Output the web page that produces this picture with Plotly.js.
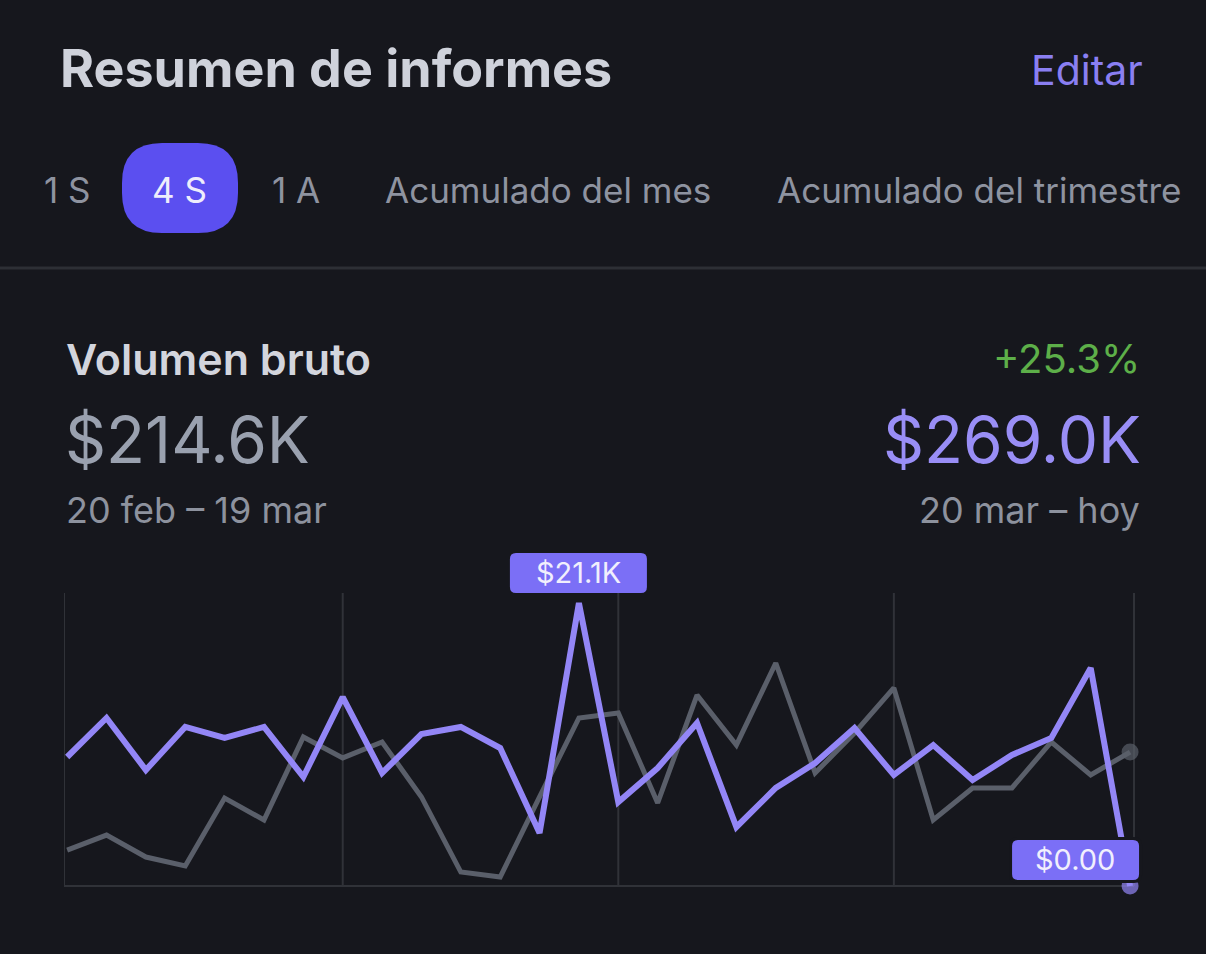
<!DOCTYPE html>
<html><head><meta charset="utf-8">
<script src="https://cdn.plot.ly/plotly-3.0.1.min.js"></script>
<style>html,body{margin:0;padding:0;background:#16171d;}#chart{width:1206px;height:954px;}</style>
</head><body><div id="chart"></div>
<script>
// ---- data (values in $K) ----
const days = [0,1,2,3,4,5,6,7,8,9,10,11,12,13,14,15,16,17,18,19,20,21,22,23,24,25,26,27];
const previousPeriod = [2.68,3.80,2.16,1.49,6.56,4.92,11.11,9.55,10.74,6.64,1.04,0.67,6.64,12.53,12.90,6.19,14.24,10.51,16.63,8.43,11.41,14.77,4.92,7.31,7.31,10.74,8.28,9.99];
const currentPeriod = [9.62,12.53,8.65,11.86,11.04,11.86,8.13,14.09,8.43,11.33,11.86,10.29,3.95,21.10,6.26,8.80,12.16,4.40,7.31,9.17,11.78,8.28,10.51,7.90,9.77,11.04,16.26,0.00];
const weekTicks = [7,14,21];
const tabLabels = ["1 S","4 S","1 A","Acumulado del mes","Acumulado del trimestre"];
const headerTitle = "Resumen de informes";
const editLabel = "Editar";
const metricName = "Volumen bruto";
const previousTotal = "$214.6K";
const currentTotal = "$269.0K";
const changePct = "+25.3%";
const previousRange = "20 feb – 19 mar";
const currentRange = "20 mar – hoy";
const peakLabel = "$21.1K";
const lastLabel = "$0.00";

// ---- helpers ----
const W = 1206, H = 954;
const FONT = "Inter, Roboto, 'Noto Sans', sans-serif";
const px = x => x / W;
const py = y => 1 - y / H;
function rr(x0, y0, x1, y1, r) {
  return `M${x0+r},${y0} L${x1-r},${y0} Q${x1},${y0} ${x1},${y0+r} L${x1},${y1-r} Q${x1},${y1} ${x1-r},${y1} L${x0+r},${y1} Q${x0},${y1} ${x0},${y1-r} L${x0},${y0+r} Q${x0},${y0} ${x0+r},${y0} Z`;
}
function txt(text, x, y, size, color, anchor, weight) {
  return {text, xref:'paper', yref:'paper', x:px(x), y:py(y), xanchor:anchor||'left', yanchor:'middle',
          showarrow:false, font:{family:FONT, size, color, weight:weight||400}};
}

const peakIdx = currentPeriod.indexOf(Math.max(...currentPeriod));
const lastIdx = days.length - 1;

// frame of the chart (axis units)
const xLo = -0.08, xHi = 27.1, yTop = 21.85;
const GRID = '#303238';

const traces = [
  {x:days, y:previousPeriod, type:'scatter', mode:'lines+markers', cliponaxis:false,
   line:{color:'#5a5f6a', width:5},
   marker:{color:'#5a5f6a', line:{width:0}, size:days.map((d,i)=> i===lastIdx ? 17 : 0)}, hoverinfo:'skip'},
  {x:days, y:currentPeriod, type:'scatter', mode:'lines+markers', cliponaxis:false,
   line:{color:'#9386f6', width:6},
   marker:{color:'#9386f6', line:{width:0}, size:days.map((d,i)=> i===lastIdx ? 17 : 0)}, hoverinfo:'skip'}
];

const tabX = [42, 180, 270, 383, 775];
const annotations = [
  txt(headerTitle, 58, 69, 52, '#cfd2db', 'left', 700),
  txt(editLabel, 1145, 70, 41, '#8a7ff2', 'right', 400),
  txt(metricName, 64, 359, 43, '#d3d5dd', 'left', 600),
  txt(changePct, 1142, 359, 40, '#5daf49', 'right', 400),
  txt(previousTotal, 63, 439, 64, '#9aa1af', 'left', 400),
  txt(currentTotal, 1143, 439, 64, '#998ef6', 'right', 400),
  txt(previousRange, 64, 510, 36, '#8d929e', 'left', 400),
  txt(currentRange, 1142, 510, 36, '#8d929e', 'right', 400),
  {text:peakLabel, xref:'x', yref:'y', x:days[peakIdx], y:currentPeriod[peakIdx], xanchor:'center', yanchor:'middle',
   yshift:31, showarrow:false, font:{family:FONT, size:29, color:'#f1effd'}},
  {text:lastLabel, xref:'x', yref:'y', x:days[lastIdx], y:currentPeriod[lastIdx], xanchor:'center', yanchor:'middle',
   xshift:-55, yshift:27, showarrow:false, font:{family:FONT, size:29, color:'#f1effd'}}
];
tabLabels.forEach((t,i)=>{
  annotations.push(txt(t, tabX[i], 190, 35, i===1 ? '#eeedfc' : '#8e93a0', i===1?'center':'left', 400));
});

const shapes = [
  // selected tab pill
  {type:'path', xref:'paper', yref:'paper', xsizemode:'pixel', ysizemode:'pixel', xanchor:0, yanchor:1,
   path:rr(122, -233, 238, -143, 40), fillcolor:'#5b4ff0', line:{width:0}, layer:'below'},
  // separator
  {type:'line', xref:'paper', yref:'paper', x0:0, x1:1, y0:py(268), y1:py(268), line:{color:'#2d2f35', width:3}, layer:'below'},
  // chart frame: left, right, bottom
  {type:'line', xref:'x', yref:'y', x0:xLo, x1:xLo, y0:0, y1:yTop, line:{color:GRID, width:2}, layer:'below'},
  {type:'line', xref:'x', yref:'y', x0:xHi, x1:xHi, y0:0, y1:yTop, line:{color:GRID, width:2}, layer:'below'},
  {type:'line', xref:'x', yref:'y', x0:xLo, x1:xHi, y0:0, y1:0, line:{color:GRID, width:2}, layer:'below'},
];
// weekly vertical gridlines
weekTicks.forEach(t => shapes.push({type:'line', xref:'x', yref:'y', x0:t, x1:t, y0:0, y1:yTop, line:{color:GRID, width:2}, layer:'below'}));
// label boxes
shapes.push(
  {type:'path', xref:'x', yref:'y', xsizemode:'pixel', ysizemode:'pixel', xanchor:days[peakIdx], yanchor:currentPeriod[peakIdx],
   path:rr(-69, 10, 68, 50, 6), fillcolor:'#7b6ff6', line:{width:0}, layer:'above'},
  {type:'path', xref:'x', yref:'y', xsizemode:'pixel', ysizemode:'pixel', xanchor:days[lastIdx], yanchor:currentPeriod[lastIdx],
   path:rr(-121, 3, 12, 49, 8), fillcolor:'#16171d', line:{width:0}, layer:'above'},
  {type:'path', xref:'x', yref:'y', xsizemode:'pixel', ysizemode:'pixel', xanchor:days[lastIdx], yanchor:currentPeriod[lastIdx],
   path:rr(-118, 6, 9, 46, 6), fillcolor:'#7b6ff6', line:{width:0}, layer:'above'}
);

// plot area extends past the drawn frame so label boxes are not clipped
const pxPerX = (1134 - 64) / (xHi - xLo);
const pxPerY = (886 - 593) / yTop;
const layout = {
  width:W, height:H, autosize:false,
  paper_bgcolor:'#16171d', plot_bgcolor:'rgba(0,0,0,0)',
  margin:{l:0, r:0, t:0, b:0},
  showlegend:false,
  xaxis:{domain:[px(64), px(1160)], range:[xLo, xHi + (1160-1134)/pxPerX], visible:false, fixedrange:true},
  yaxis:{domain:[py(900), py(540)], range:[-(900-886)/pxPerY, yTop + (593-540)/pxPerY], visible:false, fixedrange:true},
  annotations, shapes
};

Plotly.newPlot('chart', traces, layout, {displayModeBar:false, staticPlot:true});
</script></body></html>
